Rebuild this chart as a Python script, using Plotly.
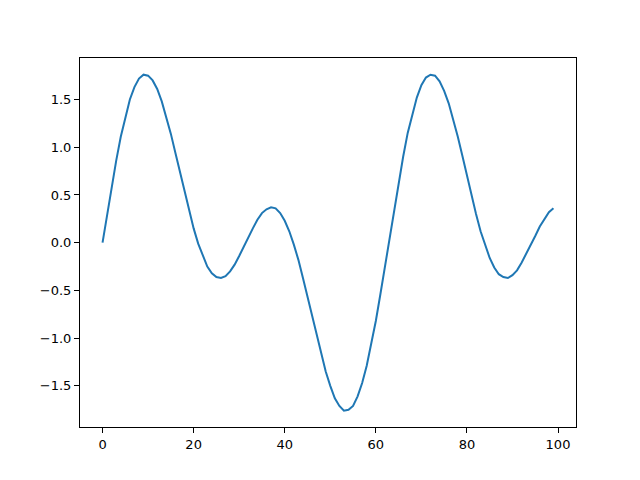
import plotly.graph_objects as go

x = list(range(100))
y = [
    0.00, 0.30, 0.59, 0.86, 1.11, 1.32, 1.50, 1.63, 1.72, 1.76,
    1.75, 1.70, 1.61, 1.48, 1.32, 1.14, 0.94, 0.74, 0.53, 0.33,
    0.15, -0.01, -0.14, -0.25, -0.32, -0.36, -0.37, -0.35, -0.30, -0.23,
    -0.14, -0.04, 0.06, 0.15, 0.24, 0.31, 0.35, 0.37, 0.36, 0.31,
    0.23, 0.12, -0.02, -0.18, -0.37, -0.57, -0.77, -0.98, -1.17, -1.35,
    -1.50, -1.63, -1.71, -1.76, -1.75, -1.71, -1.61, -1.47, -1.29, -1.07,
    -0.82, -0.54, -0.25, 0.05, 0.35, 0.64, 0.90, 1.15, 1.35, 1.52,
    1.65, 1.73, 1.76, 1.75, 1.69, 1.59, 1.46, 1.29, 1.11, 0.91,
    0.70, 0.50, 0.30, 0.12, -0.03, -0.16, -0.26, -0.33, -0.36, -0.37,
    -0.34, -0.29, -0.21, -0.12, -0.02, 0.07, 0.17, 0.25, 0.32, 0.36,
]

xticks = [0, 20, 40, 60, 80, 100]
yticks = [-1.5, -1.0, -0.5, 0.0, 0.5, 1.0, 1.5]
ytick_text = ["\u22121.5", "\u22121.0", "\u22120.5", "0.0", "0.5", "1.0", "1.5"]

fig = go.Figure()
fig.add_trace(go.Scatter(x=x, y=y, mode="lines",
                         line=dict(color="#1f77b4", width=2)))

axis_style = dict(
    showgrid=False, zeroline=False,
    showline=True, linecolor="black", linewidth=1, mirror=True,
    ticks="outside", ticklen=5, tickwidth=1, tickcolor="black",
)

fig.update_layout(
    width=640, height=480,
    # page body adds an 8px offset, so margins are shifted to compensate
    margin=dict(l=72, r=72, t=50, b=61),
    plot_bgcolor="white", paper_bgcolor="white",
    showlegend=False,
    font=dict(family="DejaVu Sans", size=13, color="black"),
    xaxis=dict(range=[-4.95, 103.95], tickvals=xticks, **axis_style),
    yaxis=dict(range=[-1.931, 1.935], tickvals=yticks, ticktext=ytick_text, **axis_style),
)

fig.write_html("out.html")
